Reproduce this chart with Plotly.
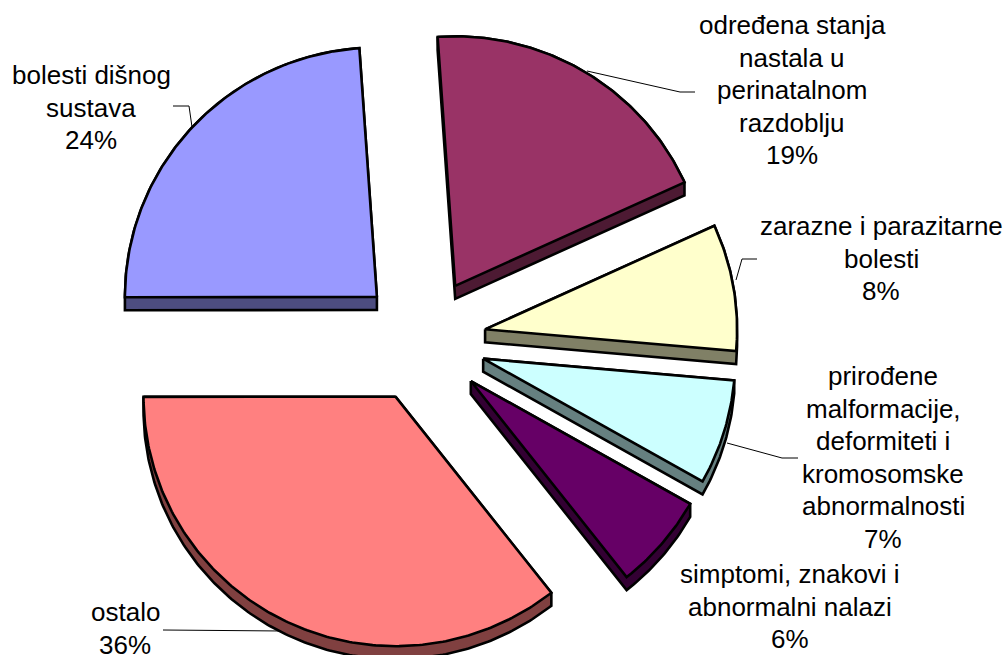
import math
import plotly.graph_objects as go

# ---- data (percent shares, clockwise from the start angle)
category_lines = [
    ["određena stanja", "nastala u", "perinatalnom", "razdoblju"],
    ["zarazne i parazitarne", "bolesti"],
    ["prirođene", "malformacije,", "deformiteti i", "kromosomske", "abnormalnosti"],
    ["simptomi, znakovi i", "abnormalni nalazi"],
    ["ostalo"],
    ["bolesti dišnog", "sustava"],
]
shares = [19.3, 8.2, 6.8, 6.2, 35.6, 23.9]

# ---- styles
top_colors = ["#993366", "#FFFFCC", "#CCFFFF", "#660066", "#FF8080", "#9999FF"]
wall_colors = ["#4D1A33", "#808066", "#668080", "#330033", "#804040", "#4D4D80"]

# ---- layout of the pie in page pixels
W, H = 1004, 655
CX, CY = 423, 340
RADIUS_X = 252
RADIUS_Y = 249.5
PULL = 63
DEPTH = 13
START_DEG = 356.0
EDGE = 2.6
FONT_SIZE = 26
LINE_GAP = 32.6

# label block: centre x, y of first line centre
label_anchor = [(792, 25), (881, 226), (883, 376), (790, 574), (125, 612), (91, 75)]
# leader polylines
leaders = [
    ([587, 680, 695], [71, 92, 92]),
    ([736, 742, 757], [280, 259, 259]),
    ([727, 782, 798], [443, 458, 458]),
    None,
    ([163, 283], [630, 631]),
    ([173, 189, 192], [106, 106, 127]),
]


def hull(points):
    pts = sorted(set(points))

    def cross(o, a, b):
        return (a[0] - o[0]) * (b[1] - o[1]) - (a[1] - o[1]) * (b[0] - o[0])

    lower, upper = [], []
    for p in pts:
        while len(lower) >= 2 and cross(lower[-2], lower[-1], p) <= 0:
            lower.pop()
        lower.append(p)
    for p in reversed(pts):
        while len(upper) >= 2 and cross(upper[-2], upper[-1], p) <= 0:
            upper.pop()
        upper.append(p)
    return lower[:-1] + upper[:-1]


def wedge(a0, a1):
    mid = math.radians((a0 + a1) / 2)
    ax = CX + PULL * math.sin(mid)
    ay = CY - PULL * math.cos(mid)
    steps = max(8, int((a1 - a0) * 1.5))
    pts = [(ax, ay)]
    for i in range(steps + 1):
        t = math.radians(a0 + (a1 - a0) * i / steps)
        pts.append((ax + RADIUS_X * math.sin(t), ay - RADIUS_Y * math.cos(t)))
    return pts


fig = go.Figure()

for lead in leaders:
    if lead:
        fig.add_trace(go.Scatter(x=lead[0], y=lead[1], mode="lines",
                                 line=dict(color="#000000", width=1),
                                 hoverinfo="skip", showlegend=False))

total = sum(shares)
angle = START_DEG
annotations = []
for share, top, wall, lines, (lx, ly) in zip(shares, top_colors, wall_colors,
                                              category_lines, label_anchor):
    sweep = share / total * 360
    face = wedge(angle, angle + sweep)
    angle += sweep
    sides = hull(face + [(x, y + DEPTH) for x, y in face])
    for pts, color in ((sides, wall), (face, top)):
        xs = [p[0] for p in pts] + [pts[0][0]]
        ys = [p[1] for p in pts] + [pts[0][1]]
        fig.add_trace(go.Scatter(x=xs, y=ys, mode="lines", fill="toself",
                                 fillcolor=color,
                                 line=dict(color="#000000", width=EDGE),
                                 hoverinfo="skip", showlegend=False))
    for i, text in enumerate(lines + [f"{round(share)}%"]):
        annotations.append(dict(x=lx, y=ly + i * LINE_GAP, text=text, showarrow=False,
                                xanchor="center", yanchor="middle",
                                font=dict(family="Liberation Sans, Arial, sans-serif",
                                          size=FONT_SIZE, color="#000000")))

fig.update_layout(
    width=W, height=H, margin=dict(l=0, r=0, t=0, b=0),
    paper_bgcolor="#FFFFFF", plot_bgcolor="#FFFFFF", showlegend=False,
    xaxis=dict(range=[0, W], visible=False, fixedrange=True),
    yaxis=dict(range=[H, 0], visible=False, fixedrange=True),
    annotations=annotations,
)

fig.write_html("out.html", config={"displayModeBar": False},
               post_script="document.body.style.margin='0';document.body.style.overflow='hidden';")
